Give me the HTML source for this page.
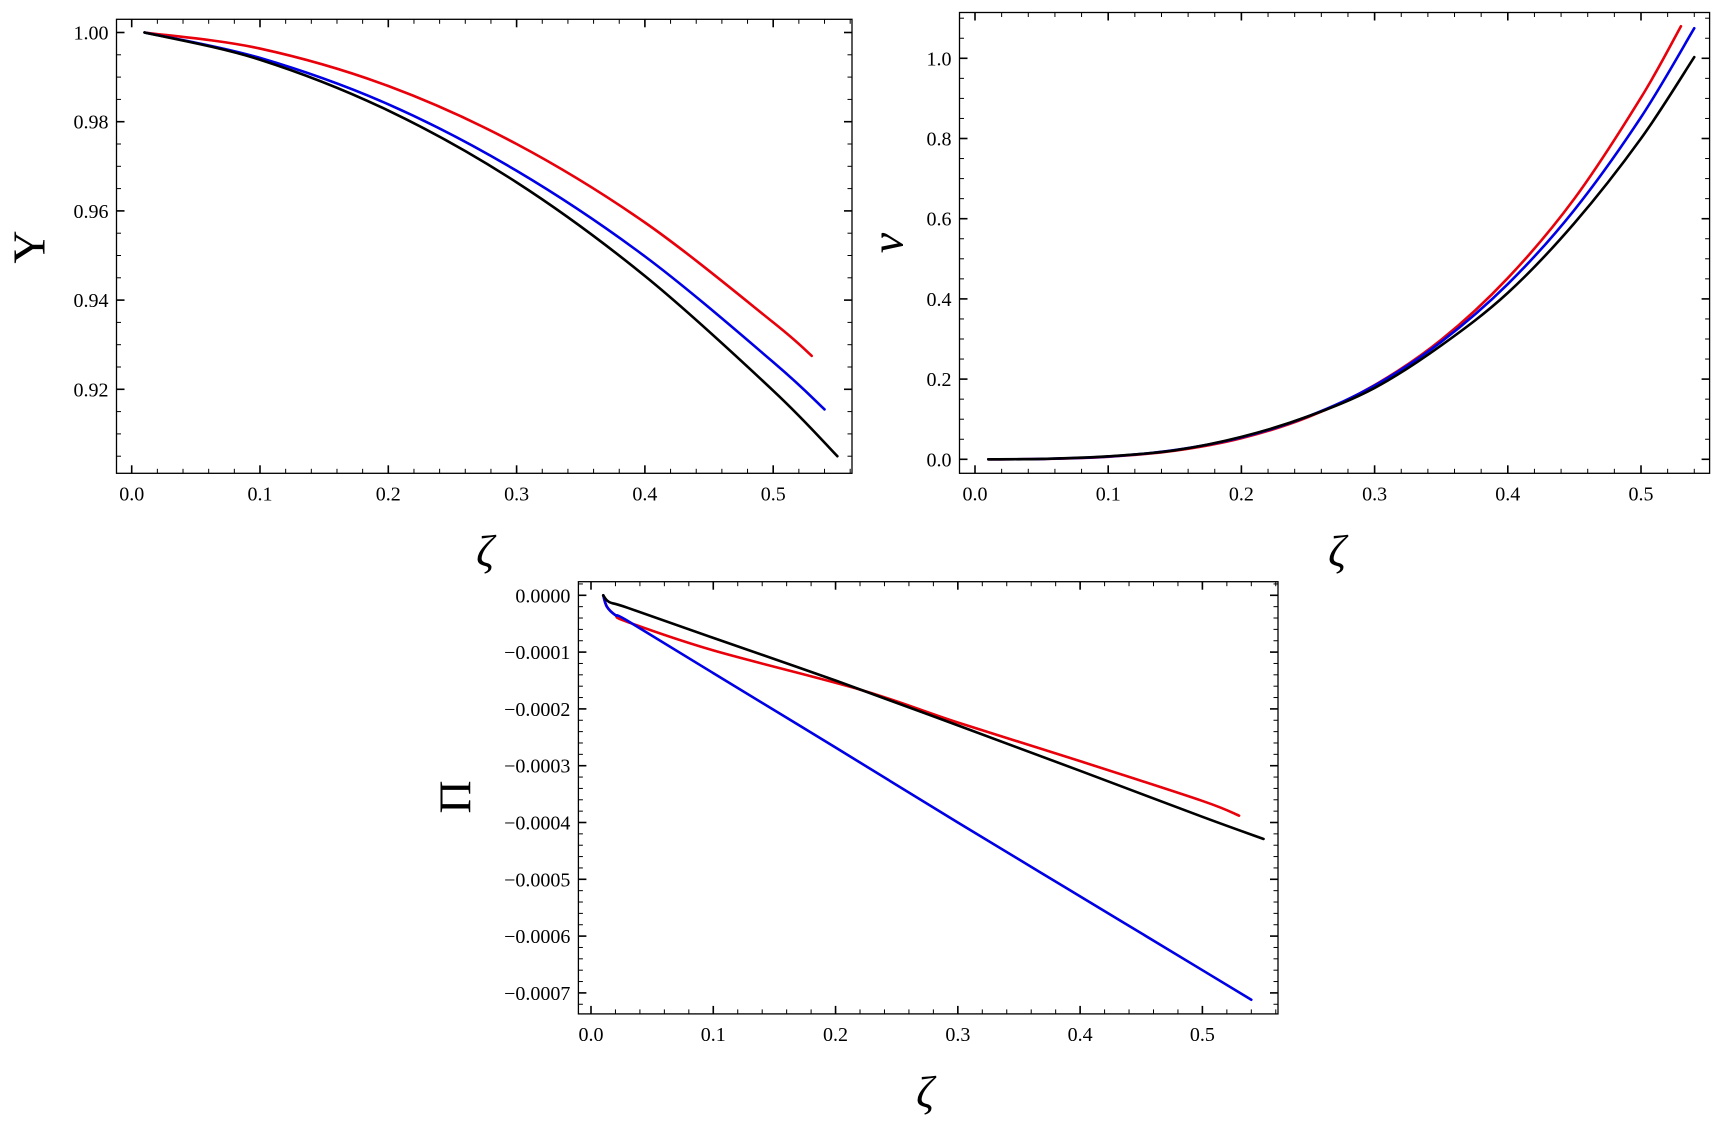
<!DOCTYPE html>
<html><head><meta charset="utf-8">
<style>
html,body{margin:0;padding:0;background:#fff;}
svg{display:block;font-family:"Liberation Serif",serif;}
</style></head>
<body>
<svg id="fig" width="1723" height="1127" viewBox="0 0 1723 1127" xmlns="http://www.w3.org/2000/svg"></svg>
<script>
// ---- Panel A: Upsilon vs zeta ----
const upsRedZ = [0.01,0.1,0.2,0.3,0.4,0.5,0.53];
const upsRed  = [1.0,0.9964,0.988,0.975,0.9574,0.935,0.9275];
const upsBlueZ = [0.01,0.1,0.2,0.3,0.4,0.5,0.54];
const upsBlue = [1.0,0.9943,0.9839,0.969,0.9498,0.9261,0.9155];
const upsBlackZ = [0.01,0.1,0.2,0.3,0.4,0.5,0.55];
const upsBlack = [1.0,0.9939,0.9825,0.9664,0.9454,0.9197,0.905];
const upsYTicks = ["0.92","0.94","0.96","0.98","1.00"];
const upsXTicks = ["0.0","0.1","0.2","0.3","0.4","0.5"];

// ---- Panel B: nu vs zeta ----
const nuRedZ = [0.01,0.05,0.1,0.15,0.2,0.25,0.3,0.35,0.4,0.45,0.5,0.53];
const nuRed  = [0,0.0008,0.0063,0.0214,0.0526,0.105,0.185,0.298,0.452,0.65,0.902,1.08];
const nuBlueZ = [0.01,0.05,0.1,0.15,0.2,0.25,0.3,0.35,0.4,0.45,0.5,0.54];
const nuBlue = [0,0.0008,0.0068,0.023,0.0546,0.107,0.184,0.293,0.437,0.622,0.853,1.075];
const nuBlackZ = [0.01,0.05,0.1,0.15,0.2,0.25,0.3,0.35,0.4,0.45,0.5,0.54];
const nuBlack = [0,0.001,0.0075,0.0225,0.0559,0.107,0.178,0.284,0.415,0.589,0.80,1.003];
const nuYTicks = ["0.0","0.2","0.4","0.6","0.8","1.0"];
const nuXTicks = ["0.0","0.1","0.2","0.3","0.4","0.5"];

// ---- Panel C: Pi vs zeta ----
const piRedZ = [0.01,0.013,0.02,0.03,0.1,0.22,0.3,0.4,0.5,0.53];
const piRed  = [0,-0.00002,-0.000035,-0.000047,-0.000097,-0.000166,-0.000224,-0.000292,-0.000362,-0.000388];
const piBlueZ = [0.01,0.013,0.02,0.03,0.1,0.2,0.3,0.4,0.5,0.54];
const piBlue = [0,-0.00002,-0.000035,-0.000045,-0.000137,-0.000268,-0.000400,-0.000530,-0.000660,-0.000712];
const piBlackZ = [0.01,0.015,0.03,0.1,0.2,0.3,0.4,0.5,0.55];
const piBlack = [0,-0.000012,-0.000022,-0.000075,-0.000150,-0.000229,-0.000309,-0.000390,-0.000429];
const piYTicks = ["\u22120.0007","\u22120.0006","\u22120.0005","\u22120.0004","\u22120.0003","\u22120.0002","\u22120.0001","0.0000"];
const piXTicks = ["0.0","0.1","0.2","0.3","0.4","0.5"];

const NS="http://www.w3.org/2000/svg";
const svg=document.getElementById('fig');
function mk(tag,attrs,parent){const e=document.createElementNS(NS,tag);for(const k in attrs)e.setAttribute(k,attrs[k]);(parent||svg).appendChild(e);return e;}

function smoothPath(pts){
  let d="M"+pts[0][0].toFixed(2)+","+pts[0][1].toFixed(2);
  for(let i=0;i<pts.length-1;i++){
    const p0=pts[Math.max(0,i-1)],p1=pts[i],p2=pts[i+1],p3=pts[Math.min(pts.length-1,i+2)];
    const c1=[p1[0]+(p2[0]-p0[0])/6,p1[1]+(p2[1]-p0[1])/6];
    const c2=[p2[0]-(p3[0]-p1[0])/6,p2[1]-(p3[1]-p1[1])/6];
    d+=" C"+c1[0].toFixed(2)+","+c1[1].toFixed(2)+" "+c2[0].toFixed(2)+","+c2[1].toFixed(2)+" "+p2[0].toFixed(2)+","+p2[1].toFixed(2);
  }
  return d;
}

function panel(cfg){
  const g=mk('g',{});
  
  
  const sx=v=>cfg.x0px+(v-0)*cfg.xpx;
  const sy=v=>cfg.y0px-(v-cfg.y0v)*cfg.ypx;
  const F=cfg.frame;
  const fr=mk('rect',{x:F[0],y:F[1],width:F[2]-F[0],height:F[3]-F[1],fill:'none',stroke:'#000','stroke-width':1.3},g);
  
  
  for(let i=0;i<cfg.xTicks.length;i++){
    const v=i*0.1;const x=sx(v);
    mk('line',{x1:x,y1:F[3],x2:x,y2:F[3]-8,stroke:'#000','stroke-width':1.6},g);
    mk('line',{x1:x,y1:F[1],x2:x,y2:F[1]+8,stroke:'#000','stroke-width':1.6},g);
    const t=mk('text',{x:x,y:F[3]+27,'text-anchor':'middle','font-size':20},g);
    t.textContent=cfg.xTicks[i];
    
    
  }
  for(let v=-0.1;v<0.6;v+=0.02){
    const x=sx(v); if(x<=F[0]+1||x>=F[2]-1)continue;
    mk('line',{x1:x,y1:F[3],x2:x,y2:F[3]-4.5,stroke:'#000','stroke-width':1},g);
    mk('line',{x1:x,y1:F[1],x2:x,y2:F[1]+4.5,stroke:'#000','stroke-width':1},g);
  }
  for(let i=0;i<cfg.yTicks.length;i++){
    const v=cfg.y0v+i*cfg.ystep;const y=sy(v);
    mk('line',{x1:F[0],y1:y,x2:F[0]+8,y2:y,stroke:'#000','stroke-width':1.6},g);
    mk('line',{x1:F[2],y1:y,x2:F[2]-8,y2:y,stroke:'#000','stroke-width':1.6},g);
    const t=mk('text',{x:F[0]-8,y:y+7,'text-anchor':'end','font-size':20},g);
    t.textContent=cfg.yTicks[i];
    
    
  }
  const mstep=cfg.ystep/cfg.yminor;
  for(let k=-cfg.yminor*2;k<=cfg.yTicks.length*cfg.yminor+cfg.yminor*2;k++){
    if(k%cfg.yminor===0)continue;
    const y=sy(cfg.y0v+k*mstep); if(y<=F[1]+1||y>=F[3]-1)continue;
    mk('line',{x1:F[0],y1:y,x2:F[0]+4.5,y2:y,stroke:'#000','stroke-width':1},g);
    mk('line',{x1:F[2],y1:y,x2:F[2]-4.5,y2:y,stroke:'#000','stroke-width':1},g);
  }
  cfg.series.forEach(s=>{
    const pts=s.z.map((z,i)=>[sx(z),sy(s.v[i])]);
    const p=mk('path',{d:smoothPath(pts),fill:'none',stroke:s.c,'stroke-width':2.6,'stroke-linecap':'round','stroke-linejoin':'round'},g);
    
    
  });
  const xt=mk('text',{x:cfg.xt[0],y:cfg.xt[1],'text-anchor':'middle','font-size':44,'font-style':'italic'},g);
  xt.textContent='\u03B6';
  
  
  const yt=mk('text',{x:0,y:0,'text-anchor':'middle','dominant-baseline':'central','font-size':cfg.ytSize,'font-style':cfg.ytItalic?'italic':'normal',transform:`translate(${cfg.yt[0]},${cfg.yt[1]}) rotate(-90)`},g);
  yt.textContent=cfg.ytText;
  
  
}

panel({name:'upsilon-panel',frame:[116.5,19.3,852,473.3],x0px:131.7,xpx:1283,y0v:0.92,y0px:389.3,ypx:89.2/0.02,ystep:0.02,yminor:4,
  xTicks:upsXTicks,yTicks:upsYTicks,xt:[485,566],yt:[29,247],ytText:'\u03A5',ytSize:46,ytItalic:false,
  series:[{name:'upsilon-red-line',c:'#e8000b',z:upsRedZ,v:upsRed},{name:'upsilon-blue-line',c:'#0000e6',z:upsBlueZ,v:upsBlue},{name:'upsilon-black-line',c:'#000',z:upsBlackZ,v:upsBlack}]});

panel({name:'nu-panel',frame:[959.5,12.5,1709.6,473.3],x0px:975,xpx:1332,y0v:0,y0px:459.3,ypx:401,ystep:0.2,yminor:4,
  xTicks:nuXTicks,yTicks:nuYTicks,xt:[1337,566],yt:[887,243],ytText:'\u03BD',ytSize:46,ytItalic:true,
  series:[{name:'nu-red-line',c:'#e8000b',z:nuRedZ,v:nuRed},{name:'nu-blue-line',c:'#0000e6',z:nuBlueZ,v:nuBlue},{name:'nu-black-line',c:'#000',z:nuBlackZ,v:nuBlack}]});

panel({name:'pi-panel',frame:[578.4,581.7,1278,1013.9],x0px:591,xpx:1222.8,y0v:-0.0007,y0px:992.9,ypx:56.8/0.0001,ystep:0.0001,yminor:5,
  xTicks:piXTicks,yTicks:piYTicks,xt:[925,1107],yt:[455,797],ytText:'\u03A0',ytSize:46,ytItalic:false,
  series:[{name:'pi-red-line',c:'#e8000b',z:piRedZ,v:piRed},{name:'pi-blue-line',c:'#0000e6',z:piBlueZ,v:piBlue},{name:'pi-black-line',c:'#000',z:piBlackZ,v:piBlack}]});
</script>
</body></html>
